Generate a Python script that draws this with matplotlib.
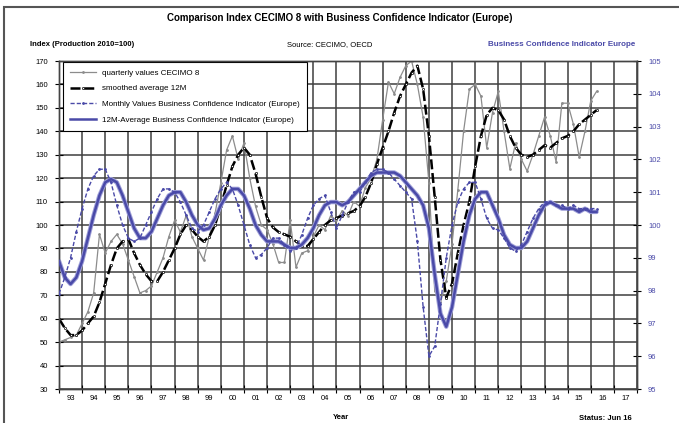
import numpy as np
import matplotlib
matplotlib.use("Agg")
import matplotlib.pyplot as plt
from matplotlib.patches import Rectangle

plt.rcParams['font.family'] = ['Liberation Sans', 'DejaVu Sans']

# quarterly series, first point = 1993 Q1
start_year = 1993
cecimo_quarterly = [
    50, 51, 52, 53,
    58, 63, 71, 96,
    88, 93, 96, 92,
    85, 78, 71, 72,
    74, 80, 86, 95,
    102, 97, 104, 95,
    90, 85, 95, 105,
    118, 132, 138, 128,
    135, 120, 108, 100,
    98, 92, 84, 84,
    102, 82, 88, 89,
    95, 100, 98, 104,
    102, 106, 104, 110,
    108, 116, 120, 128,
    145, 161, 156, 163,
    168, 170, 160, 146,
    118, 72, 67, 76,
    92, 115, 140, 158,
    160, 155, 133, 148,
    157, 140, 124, 135,
    128, 123, 130, 138,
    146, 138, 127, 152,
    152, 143, 129, 140,
    153, 157,
]
cecimo_smoothed = [
    60, 56, 53, 53,
    55, 58, 61, 67,
    75, 83, 90, 93,
    94, 88, 83, 79,
    76, 76, 80, 85,
    90, 96, 100, 98,
    95, 93, 95, 100,
    108, 117, 125, 130,
    133, 130, 122, 112,
    103, 99, 97, 96,
    95, 93, 91, 91,
    94, 97, 100, 102,
    103, 104, 105, 106,
    108, 112, 118, 126,
    133, 140, 148, 155,
    160, 165, 168, 158,
    138, 112, 85, 69,
    75, 88, 100, 110,
    125, 138, 147, 150,
    149, 145, 138, 133,
    130, 129, 130, 132,
    134, 133, 135, 137,
    138, 140, 143, 145,
    147, 149,
]
bci_monthly = [
    97.9, 98.4, 99.0, 99.8,
    100.5, 101.1, 101.5, 101.7,
    101.7, 101.3, 100.6, 100.0,
    99.6, 99.5, 99.6, 100.0,
    100.4, 100.8, 101.1, 101.1,
    101.0, 100.7, 100.3, 99.9,
    99.8, 100.0, 100.4, 100.8,
    101.1, 101.3, 101.1, 100.6,
    100.0, 99.4, 99.0, 99.1,
    99.3, 99.6, 99.6, 99.4,
    99.2, 99.3, 99.7, 100.2,
    100.6, 100.8, 100.9, 100.4,
    99.9, 100.3, 100.7, 101.0,
    101.0, 101.3, 101.6, 101.7,
    101.7, 101.6, 101.4, 101.2,
    101.0, 100.8, 99.5, 97.5,
    96.0, 96.3, 97.6, 99.0,
    100.0, 100.7, 101.1, 101.3,
    101.3, 100.8, 100.2, 99.9,
    99.85, 99.6, 99.3, 99.2,
    99.4, 99.8, 100.2, 100.5,
    100.7, 100.7, 100.6, 100.6,
    100.5, 100.6, 100.5, 100.5,
    100.5, 100.5,
]
bci_12m = [
    98.9, 98.4, 98.2, 98.4,
    98.9, 99.6, 100.3, 100.9,
    101.3, 101.4, 101.3, 100.9,
    100.4, 99.9, 99.6, 99.6,
    99.8, 100.2, 100.6, 100.9,
    101.0, 101.0, 100.7, 100.3,
    100.0, 99.85, 99.9, 100.2,
    100.6, 100.9, 101.1, 101.1,
    100.9, 100.5, 100.0, 99.7,
    99.5, 99.5, 99.5, 99.4,
    99.3, 99.3, 99.4, 99.6,
    99.9, 100.3, 100.6, 100.7,
    100.7, 100.6, 100.7, 100.9,
    101.1, 101.3, 101.5, 101.6,
    101.6, 101.6, 101.6, 101.5,
    101.3, 101.1, 100.9, 100.6,
    99.9, 98.5, 97.3, 96.9,
    97.5, 98.5, 99.5, 100.3,
    100.8, 101.0, 101.0, 100.6,
    100.2, 99.7, 99.4, 99.3,
    99.3, 99.5, 99.9, 100.3,
    100.6, 100.7, 100.6, 100.5,
    100.5, 100.5, 100.4, 100.5,
    100.4, 100.4,
]
year_labels = ['93', '94', '95', '96', '97', '98', '99', '00', '01', '02', '03', '04', '05',
               '06', '07', '08', '09', '10', '11', '12', '13', '14', '15', '16', '17']

t = start_year + np.arange(len(cecimo_quarterly)) / 4.0

W, H = 679, 423
fig = plt.figure(figsize=(W / 100, H / 100), dpi=100)
ax = fig.add_axes([59 / W, 1 - 389 / H, (637 - 59) / W, (389 - 61) / H])
ax2 = ax.twinx()

blue = '#4a4aa8'
ax.plot(t, cecimo_quarterly, color='#8c8c8c', lw=0.9, marker='.', ms=2,
        label='quarterly values CECIMO 8', zorder=3)
ax.plot(t, cecimo_smoothed, color='black', lw=1.8, ls=(0, (4, 1.5)), marker='o', ms=1.6,
        mfc='white', mec='black', mew=0.5, label='smoothed average 12M', zorder=4)
ax2.plot(t, bci_monthly, color=blue, lw=1.0, ls=(0, (3, 1.5)), marker='.', ms=2,
         label='Monthly Values Business Confidence Indicator (Europe)', zorder=3)
ax2.plot(t, bci_12m, color='#9fa0d8', lw=3.2, zorder=2, solid_capstyle='round')
ax2.plot(t, bci_12m, color=blue, lw=1.8, zorder=3,
         label='12M-Average Business Confidence Indicator (Europe)')

n_years = len(year_labels)
ax.set_xlim(start_year, start_year + n_years)
ax.set_ylim(30, 170)
ax2.set_ylim(95, 105)
ax.set_xticks(np.arange(start_year, start_year + n_years + 1))
ax.set_xticklabels([])
ax.set_xticks(np.arange(start_year, start_year + n_years) + 0.5, minor=True)
ax.set_xticklabels(year_labels, minor=True)
ax.set_yticks(np.arange(30, 171, 10))
ax2.set_yticks(np.arange(95, 106, 1))

ax.tick_params(axis='x', which='major', direction='inout', length=6, width=0.8)
ax.tick_params(axis='x', which='minor', length=0, labelsize=5.5, pad=4)
ax.tick_params(axis='y', direction='inout', length=6, width=0.8, labelsize=5.5, pad=5)
ax2.tick_params(axis='y', direction='inout', length=6, width=0.8, labelsize=5.5,
                labelcolor=blue, pad=5)

ax.grid(True, which='major', color='#3f3f3f', lw=1.1)
ax.set_axisbelow(True)
for a in (ax, ax2):
    for s in a.spines.values():
        s.set_color('#444444')
        s.set_linewidth(1.0)

h1, l1 = ax.get_legend_handles_labels()
h2, l2 = ax2.get_legend_handles_labels()
leg = ax.legend(h1 + h2, l1 + l2, loc='upper left', bbox_to_anchor=(0.005, 1.0),
                borderaxespad=0.1, fontsize=5.8, frameon=True, fancybox=False,
                edgecolor='black', framealpha=1, handlelength=3.2, labelspacing=1.0,
                borderpad=0.9)
leg.get_frame().set_linewidth(0.8)
leg.set_zorder(10)

fig.text(0.5, 1 - 18 / H, 'Comparison Index CECIMO 8 with Business Confidence Indicator (Europe)',
         ha='center', va='center', fontsize=7, fontweight='bold')
fig.text(30 / W, 1 - 45 / H, 'Index (Production 2010=100)', ha='left', va='center',
         fontsize=5.5, fontweight='bold')
fig.text(330 / W, 1 - 45 / H, 'Source: CECIMO, OECD', ha='center', va='center', fontsize=5.5)
fig.text(562 / W, 1 - 45 / H, 'Business Confidence Indicator Europe', ha='center', va='center',
         fontsize=5.8, fontweight='bold', color=blue)
fig.text(341 / W, 1 - 417 / H, 'Year', ha='center', va='center', fontsize=5.5, fontweight='bold')
fig.text(632 / W, 1 - 418 / H, 'Status: Jun 16', ha='right', va='center', fontsize=5.5,
         fontweight='bold')

fig.patches.append(Rectangle((4 / W, -0.1), 1.2, 1 - 7 / H + 0.1, transform=fig.transFigure,
                             fill=False, edgecolor='#555555', lw=1.5))

fig.savefig('out.png', dpi=100)
